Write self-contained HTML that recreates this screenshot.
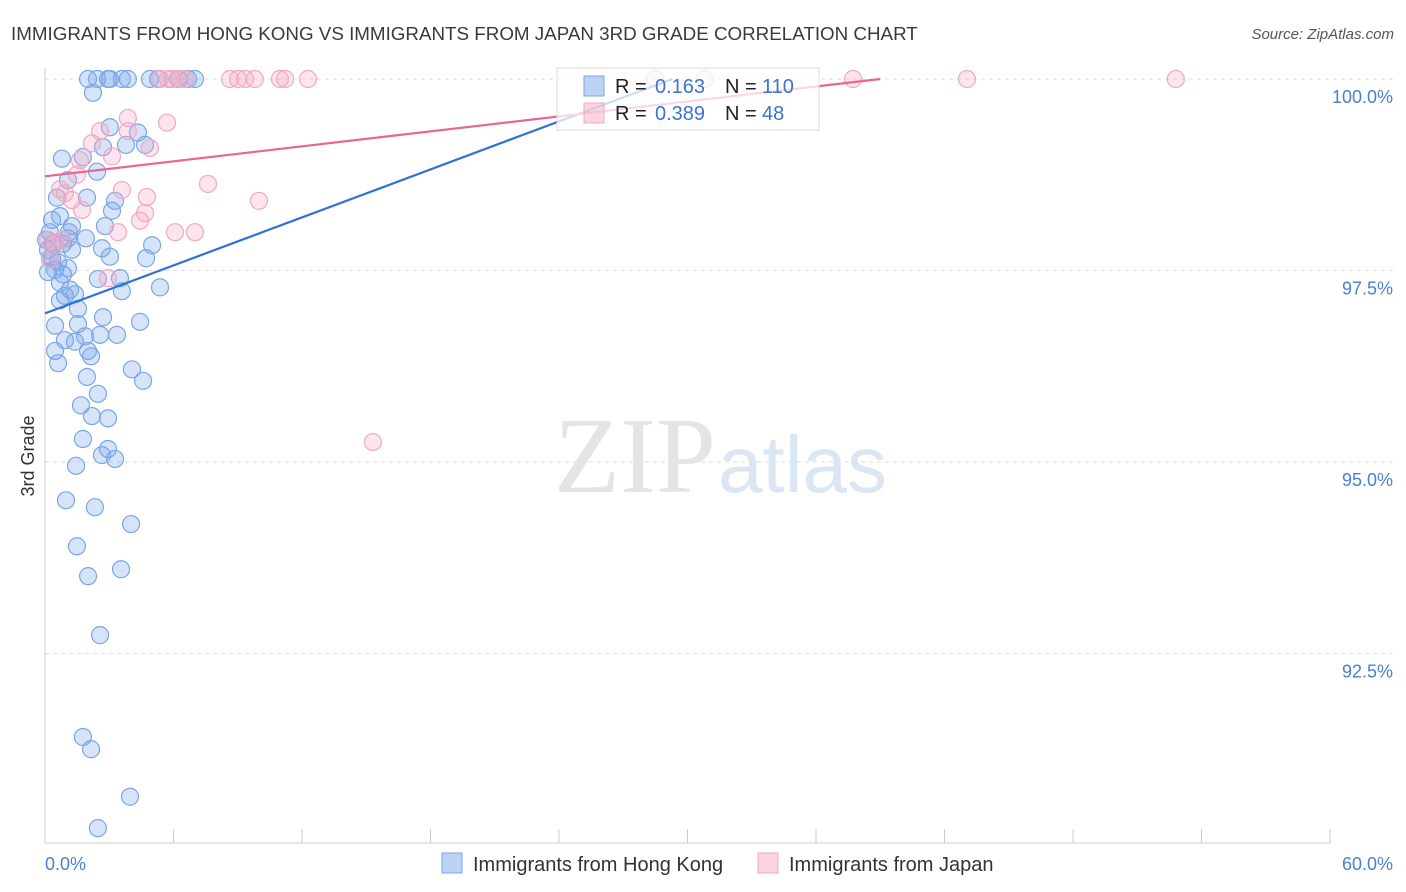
<!DOCTYPE html>
<html><head><meta charset="utf-8"><style>
body{margin:0;background:#fff;font-family:"Liberation Sans",sans-serif;}
#wrap{position:relative;width:1406px;height:892px;overflow:hidden;}
</style></head><body>
<div id="wrap">
<svg id="svg" width="1406" height="892"></svg>
</div>
<script>
const blueX=[2.01,2.43,2.94,3.03,3.59,3.87,4.90,5.28,6.21,6.68,7.00,2.24,3.03,4.34,2.71,3.78,4.67,0.79,1.77,2.43,1.07,0.56,1.96,3.27,3.13,0.70,0.33,1.26,2.80,0.23,1.07,1.91,0.37,0.84,5.00,2.66,0.14,1.26,3.03,4.72,0.33,0.61,1.07,0.14,0.84,2.47,3.50,5.37,3.59,1.17,0.93,0.70,1.40,1.54,2.71,4.44,0.47,1.54,1.87,2.57,3.36,0.93,1.40,0.47,2.01,2.15,0.61,4.06,4.58,1.96,2.47,1.68,2.19,2.94,1.77,2.94,2.66,3.27,1.45,0.98,2.33,4.02,1.49,3.55,2.01,2.57,1.77,2.15,3.97,2.47,1.12,0.05,0.47,0.23,0.70];
const blueY=[100,100,100,100,100,100,100,100,100,100,100,99.82,99.37,99.30,99.11,99.14,99.14,98.96,98.98,98.79,98.68,98.45,98.45,98.41,98.28,98.21,98.16,98.08,98.08,98.00,97.92,97.92,97.85,97.85,97.83,97.79,97.77,97.77,97.68,97.66,97.66,97.61,97.53,97.48,97.45,97.39,97.40,97.28,97.23,97.25,97.17,97.11,97.19,97.00,96.89,96.83,96.78,96.80,96.64,96.66,96.66,96.59,96.57,96.45,96.45,96.38,96.29,96.21,96.06,96.11,95.89,95.74,95.60,95.57,95.30,95.17,95.09,95.04,94.95,94.50,94.41,94.19,93.90,93.60,93.51,92.74,91.41,91.25,90.63,90.22,98.00,97.90,97.51,97.66,97.34];
const pinkX=[5.37,5.74,5.93,6.30,6.54,8.64,9.01,9.34,9.80,10.97,11.21,12.28,28.48,37.73,43.05,52.80,3.87,5.70,2.57,3.87,2.19,4.90,3.13,1.63,1.49,3.59,7.61,0.93,4.76,9.99,1.73,4.67,4.44,3.41,6.07,7.00,0.79,0.47,0.23,2.94,15.31,0.14,0.70,1.26,30.81];
const pinkY=[100,100,100,100,100,100,100,100,100,100,100,100,100,100,100,100,99.49,99.43,99.32,99.32,99.16,99.10,98.99,98.94,98.75,98.55,98.63,98.51,98.46,98.41,98.29,98.25,98.15,98.00,98.00,98.00,97.90,97.86,97.65,97.40,95.26,97.90,98.56,98.42,100];
const blueTrendX=[0,29.3], blueTrendY=[96.94,100];
const pinkTrendX=[0,39], pinkTrendY=[98.73,100];
const yTicks=[100,97.5,95,92.5];
const yTickLabels=["100.0%","97.5%","95.0%","92.5%"];
const xTicks=[0,6,12,18,24,30,36,42,48,54,60];

const NS="http://www.w3.org/2000/svg";
const svg=document.getElementById('svg');
const X0=45,X1=1330,Y100=79,PXPER=76.6;
const sx=v=>X0+(v/60)*(X1-X0);
const sy=v=>Y100+(100-v)*PXPER;
function el(t,a,p){const e=document.createElementNS(NS,t);for(const k in a)e.setAttribute(k,a[k]);(p||svg).appendChild(e);return e;}

let t=el('text',{x:11,y:40,'font-size':18.8,fill:'#3a3a3a'});t.textContent="IMMIGRANTS FROM HONG KONG VS IMMIGRANTS FROM JAPAN 3RD GRADE CORRELATION CHART";


t=el('text',{x:1394,y:39,'font-size':15,fill:'#555','font-style':'italic','text-anchor':'end'});t.textContent="Source: ZipAtlas.com";



yTicks.forEach((v,i)=>{
 const g=el('line',{x1:X0,x2:1394,y1:sy(v),y2:sy(v),stroke:'#ddd','stroke-dasharray':'4,4'});
 
 
 const l=el('text',{x:1393,y:sy(v)+24,'font-size':18,fill:'#4a7fd4','text-anchor':'end'});l.textContent=yTickLabels[i];
 
 
});
let ax=el('line',{x1:X0,x2:X0,y1:68,y2:843,stroke:'#ccc'});


ax=el('line',{x1:X0,x2:X1,y1:843,y2:843,stroke:'#ccc'});


xTicks.forEach(v=>{const k=el('line',{x1:sx(v),x2:sx(v),y1:829,y2:843,stroke:'#ccc'});
 
 });
t=el('text',{x:45,y:870,'font-size':18,fill:'#4a7fd4'});t.textContent="0.0%";


t=el('text',{x:1393,y:870,'font-size':18,fill:'#4a7fd4','text-anchor':'end'});t.textContent="60.0%";


t=el('text',{x:34,y:456,'font-size':18,fill:'#333','text-anchor':'middle',transform:'rotate(-90 34 456)'});t.textContent="3rd Grade";



t=el('text',{x:716,y:492,'font-size':108,fill:'#e4e4e4','text-anchor':'end','font-family':'Liberation Serif'});t.textContent="ZIP";


t=el('text',{x:718,y:492,'font-size':80,fill:'#dbe6f5'});t.textContent="atlas";



blueX.forEach((v,i)=>{const c=el('circle',{cx:sx(v),cy:sy(blueY[i]),r:8.5,fill:'rgba(120,165,235,0.3)',stroke:'#7aa6e6','stroke-width':1.2});
 
 });
pinkX.forEach((v,i)=>{const c=el('circle',{cx:sx(v),cy:sy(pinkY[i]),r:8.5,fill:'rgba(245,170,195,0.3)',stroke:'#f0a8c0','stroke-width':1.2});
 
 });

let ln=el('line',{x1:sx(blueTrendX[0]),y1:sy(blueTrendY[0]),x2:sx(blueTrendX[1]),y2:sy(blueTrendY[1]),stroke:'#2f72d6','stroke-width':2.2});


ln=el('line',{x1:sx(pinkTrendX[0]),y1:sy(pinkTrendY[0]),x2:sx(pinkTrendX[1]),y2:sy(pinkTrendY[1]),stroke:'#e8668f','stroke-width':2.2});



const lg=el('g',{});


el('rect',{x:557,y:68,width:262,height:62,fill:'rgba(255,255,255,0.75)',stroke:'#ddd'},lg);
el('rect',{x:584,y:76,width:20,height:20,fill:'rgba(120,165,235,0.5)',stroke:'#7aa6e6'},lg);
el('rect',{x:584,y:103,width:20,height:20,fill:'rgba(245,170,195,0.5)',stroke:'#f0a8c0'},lg);
const rows=[["0.163","110",93],["0.389"," 48",120]];
rows.forEach(r=>{
 let a=el('text',{x:615,y:r[2],'font-size':20,fill:'#222'},lg);a.textContent="R = ";
 a=el('text',{x:655,y:r[2],'font-size':20,fill:'#3b74d1'},lg);a.textContent=r[0];
 a=el('text',{x:725,y:r[2],'font-size':20,fill:'#222'},lg);a.textContent="N = ";
 a=el('text',{x:762,y:r[2],'font-size':20,fill:'#3b74d1','xml:space':'preserve'},lg);a.textContent=r[1];
});

const bl=el('g',{});


let s=el('rect',{x:442,y:853,width:20,height:20,fill:'rgba(120,165,235,0.5)',stroke:'#7aa6e6'},bl);


t=el('text',{x:473,y:871,'font-size':20,fill:'#333'},bl);t.textContent="Immigrants from Hong Kong";


s=el('rect',{x:758,y:853,width:20,height:20,fill:'rgba(245,170,195,0.5)',stroke:'#f0a8c0'},bl);


t=el('text',{x:789,y:871,'font-size':20,fill:'#333'},bl);t.textContent="Immigrants from Japan";


</script>
</body></html>
